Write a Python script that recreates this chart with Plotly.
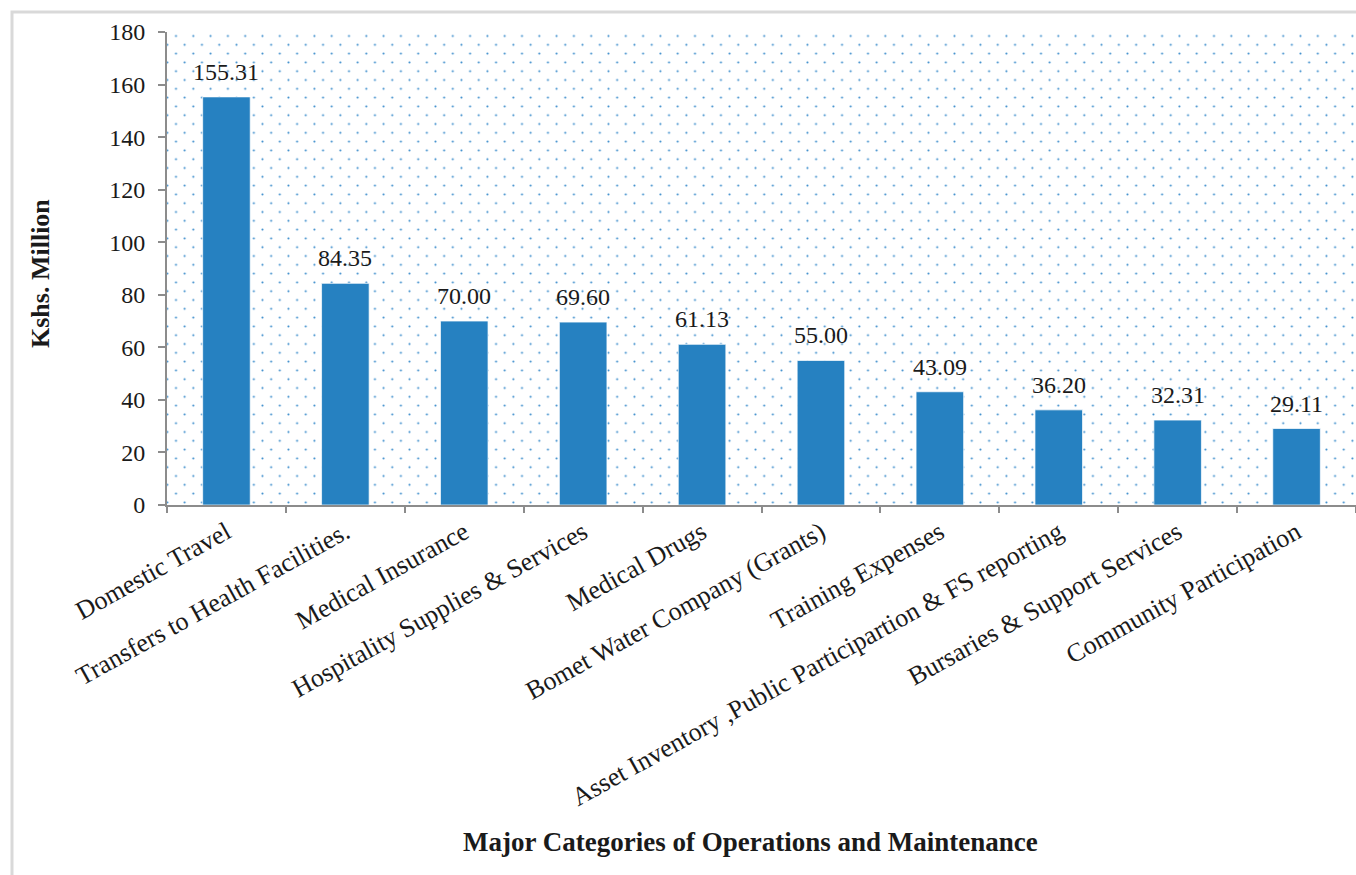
import base64
import plotly.graph_objects as go

# Operations & maintenance spending by category (Kshs. Million)
categories = [
    "Domestic Travel",
    "Transfers to Health Facilities.",
    "Medical Insurance",
    "Hospitality Supplies & Services",
    "Medical Drugs",
    "Bomet Water Company (Grants)",
    "Training Expenses",
    "Asset Inventory ,Public Participartion & FS reporting",
    "Bursaries & Support Services",
    "Community Participation",
]
amounts = [155.31, 84.35, 70.00, 69.60, 61.13, 55.00, 43.09, 36.20, 32.31, 29.11]
y_ticks = [0, 20, 40, 60, 80, 100, 120, 140, 160, 180]

W, H = 1356, 875
L, R, T, B = 167, 0, 32, 370
PW, PH = W - L - R, H - T - B

BAR_COLOR = "#2681C1"
FONT = "Liberation Serif, Times New Roman, serif"
TEXT = "#1A1A1A"

# Staggered dot texture for the plotting area
svg = f"""<svg xmlns='http://www.w3.org/2000/svg' width='{PW}' height='{PH}'>
<defs><pattern id='d' patternUnits='userSpaceOnUse' x='4.7' y='-0.4' width='17.3' height='17.6'>
<circle cx='4.3' cy='4.4' r='1.05' fill='#3A8CCB'/>
<circle cx='12.95' cy='13.2' r='1.05' fill='#3A8CCB'/>
</pattern></defs>
<rect width='100%' height='100%' fill='url(#d)'/></svg>"""
svg_uri = "data:image/svg+xml;base64," + base64.b64encode(svg.encode()).decode()

fig = go.Figure()
fig.add_trace(go.Bar(
    x=categories,
    y=amounts,
    width=0.4,
    marker=dict(color=BAR_COLOR, line=dict(color="rgba(255,255,255,0.7)", width=1)),
    hoverinfo="x+y",
))

annotations = [
    dict(x=c, y=v, xref="x", yref="y", text=f"{v:.2f}", showarrow=False,
         yanchor="bottom", yshift=10, font=dict(family=FONT, size=24, color=TEXT))
    for c, v in zip(categories, amounts)
]
annotations += [
    dict(x=(750 - L) / PW, y=(H - B - 842) / PH, xref="paper", yref="paper",
         text="<b>Major Categories of Operations and Maintenance</b>", showarrow=False,
         xanchor="center", yanchor="middle", font=dict(family=FONT, size=27, color=TEXT)),
    dict(x=(40 - L) / PW, y=(H - B - 274) / PH, xref="paper", yref="paper",
         text="<b>Kshs. Million</b>", showarrow=False, textangle=-90,
         xanchor="center", yanchor="middle", font=dict(family=FONT, size=26, color=TEXT)),
]

fig.update_layout(
    width=W, height=H,
    margin=dict(l=L, r=R, t=T, b=B, autoexpand=False),
    paper_bgcolor="white",
    plot_bgcolor="white",
    showlegend=False,
    annotations=annotations,
    images=[dict(source=svg_uri, xref="paper", yref="paper", x=0, y=1,
                 sizex=1, sizey=1, xanchor="left", yanchor="top",
                 sizing="stretch", layer="below")],
    shapes=[dict(type="rect", xref="paper", yref="paper",
                 x0=(12 - L) / PW, x1=(1420 - L) / PW,
                 y0=(H - B - 940) / PH, y1=(H - B - 12) / PH,
                 line=dict(color="#D9D9D9", width=3), layer="below")],
)

fig.update_xaxes(
    type="category",
    tickangle=-29,
    tickfont=dict(family=FONT, size=26, color=TEXT),
    showline=True, linecolor="#8C8C8C", linewidth=2,
    ticks="outside", tickson="boundaries", ticklen=6, tickwidth=2, tickcolor="#8C8C8C",
    showgrid=False, zeroline=False,
)
fig.update_yaxes(
    range=[0, 180],
    tickvals=y_ticks,
    tickfont=dict(family=FONT, size=24, color=TEXT),
    ticklabelstandoff=8,
    showline=True, linecolor="#8C8C8C", linewidth=2,
    ticks="outside", ticklen=7, tickwidth=2, tickcolor="#8C8C8C",
    showgrid=False, zeroline=False,
)

fig.write_html("out.html")
